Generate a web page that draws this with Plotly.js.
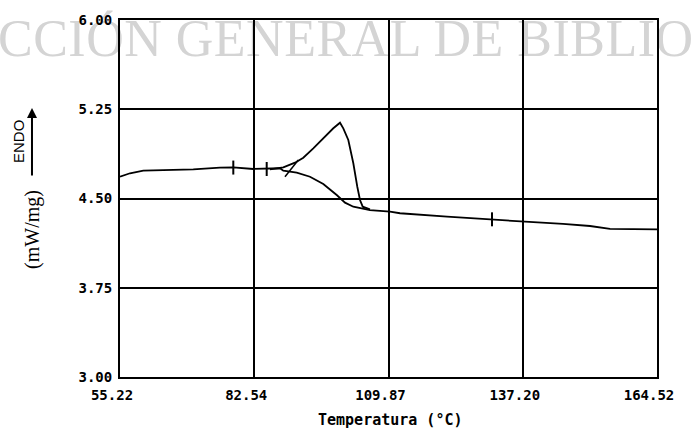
<!DOCTYPE html>
<html>
<head>
<meta charset="utf-8">
<script src="https://cdn.plot.ly/plotly-3.0.1.min.js"></script>
<style>
html,body{margin:0;padding:0;background:#fff;}
#wrap{position:relative;width:691px;height:430px;overflow:hidden;}
#mark{position:absolute;left:-2px;top:13px;z-index:0;white-space:nowrap;
  font-family:'Liberation Serif',serif;font-size:52px;line-height:52px;letter-spacing:0.5px;color:#d4d4d4;}
#chart{position:absolute;left:0;top:0;width:691px;height:430px;z-index:1;}
</style>
</head>
<body>
<div id="wrap">
<div id="mark">CCIÓN GENERAL DE BIBLIO</div>
<div id="chart"></div>
</div>
<script>
// Main DSC curve (baseline path)
const baseT = [55.22, 55.57, 57.26, 59.96, 64.73, 70.14, 75.57, 78.28, 82.35, 85.08, 87.79, 88.46, 91.19, 93.89, 96.60, 99.33, 101.02, 102.71, 106.10, 110.18, 112.21, 121.78, 130.94, 137.25, 145.39, 150.88, 154.96, 164.52];
const baseQ = [4.683, 4.689, 4.712, 4.734, 4.739, 4.745, 4.759, 4.762, 4.748, 4.748, 4.754, 4.734, 4.717, 4.683, 4.622, 4.529, 4.465, 4.431, 4.403, 4.389, 4.376, 4.347, 4.325, 4.305, 4.286, 4.269, 4.244, 4.241];
// Endothermic peak branch
const peakT = [85.75, 88.46, 90.84, 92.53, 94.56, 96.60, 98.64, 100.00, 100.67, 101.69, 102.71, 103.52, 104.07, 104.62, 106.10];
const peakQ = [4.745, 4.762, 4.801, 4.843, 4.922, 5.006, 5.090, 5.137, 5.090, 4.992, 4.796, 4.599, 4.487, 4.431, 4.409];
// Onset tangent
const tanT = [88.80, 91.51];
const tanQ = [4.683, 4.824];
// Small limit markers
const markT = [78.28, 85.08, 130.94];
const markQ = [4.760, 4.748, 4.325];
// Axis ticks
const xTicks = [55.22, 82.54, 109.87, 137.20, 164.52];
const xTickText = ['55.22', '82.54', '109.87', '137.20', '164.52'];
const yTicks = [3.00, 3.75, 4.50, 5.25, 6.00];
const yTickText = ['3.00', '3.75', '4.50', '5.25', '6.00'];

const lineStyle = {color: '#000', width: 1.8};
const traces = [
  {x: baseT, y: baseQ, mode: 'lines', line: lineStyle, hoverinfo: 'skip'},
  {x: peakT, y: peakQ, mode: 'lines', line: lineStyle, hoverinfo: 'skip'},
  {x: tanT, y: tanQ, mode: 'lines', line: {color: '#000', width: 1.5}, hoverinfo: 'skip'},
  {x: markT, y: markQ, mode: 'markers', marker: {symbol: 'line-ns', size: 10, line: {color: '#000', width: 2}}, hoverinfo: 'skip'}
];

const tickFont = {family: 'DejaVu Sans Mono', size: 14, color: '#000', weight: 'bold'};
const layout = {
  width: 691, height: 430,
  margin: {l: 120, r: 34, t: 20, b: 53, pad: 0},
  paper_bgcolor: 'rgba(0,0,0,0)', plot_bgcolor: 'rgba(0,0,0,0)',
  showlegend: false,
  xaxis: {
    range: [55.22, 164.52], tickvals: xTicks, ticktext: xTickText,
    showgrid: true, gridcolor: '#000', gridwidth: 2, zeroline: false,
    showline: true, mirror: true, linecolor: '#000', linewidth: 2,
    ticks: '', ticklabelshift: -8, ticklabelstandoff: 4, tickfont: tickFont
  },
  yaxis: {
    range: [3, 6], tickvals: yTicks, ticktext: yTickText,
    showgrid: true, gridcolor: '#000', gridwidth: 2, zeroline: false,
    showline: true, mirror: true, linecolor: '#000', linewidth: 2,
    ticks: '', ticklabelstandoff: 3, tickfont: tickFont
  },
  annotations: [
    {text: 'Temperatura (°C)', xref: 'paper', yref: 'paper', x: 0.503, y: -0.12,
     xanchor: 'center', yanchor: 'middle', showarrow: false,
     font: {family: 'DejaVu Sans Mono', size: 15, color: '#000', weight: 'bold'}},
    {text: 'ENDO', xref: 'paper', yref: 'paper', x: -0.190, y: 0.661, textangle: -90,
     xanchor: 'center', yanchor: 'middle', showarrow: false,
     font: {family: 'Liberation Sans', size: 15, color: '#000'}},
    {text: '(mW/mg)', xref: 'paper', yref: 'paper', x: -0.162, y: 0.412, textangle: -90,
     xanchor: 'center', yanchor: 'middle', showarrow: false,
     font: {family: 'Liberation Serif', size: 20, color: '#000'}},
    {text: '', xref: 'paper', yref: 'paper', x: -0.1639, y: 0.7535, ax: 0, ay: 69,
     showarrow: true, arrowhead: 2, arrowsize: 1, arrowwidth: 2, arrowcolor: '#000'}
  ]
};

Plotly.newPlot('chart', traces, layout, {staticPlot: true, displayModeBar: false});
</script>
</body>
</html>
